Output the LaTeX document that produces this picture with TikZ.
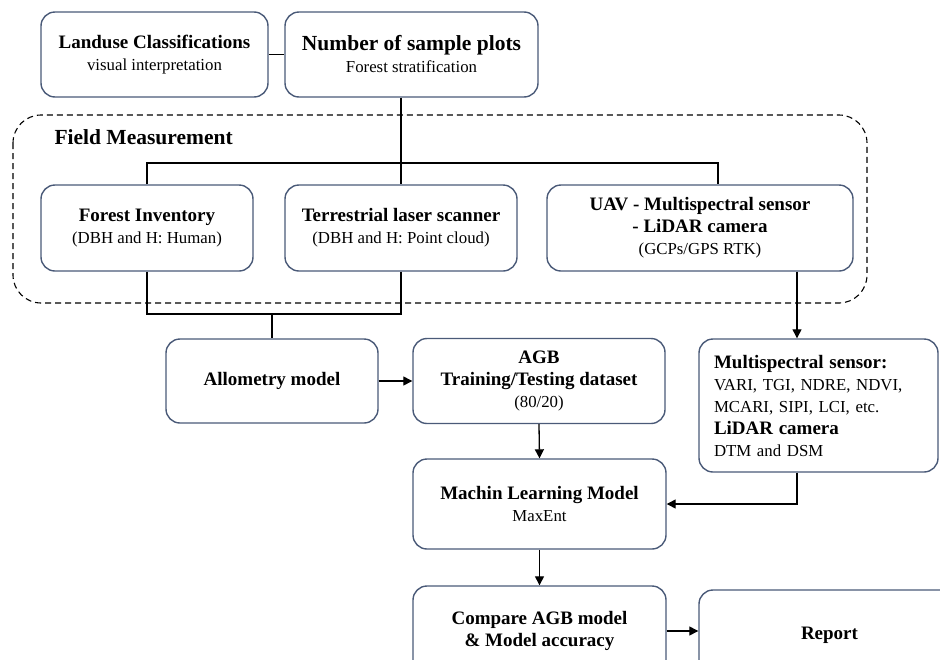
\documentclass[tikz,border=0pt]{standalone}
\usepackage{fontspec}
\setmainfont{Liberation Serif}
\usetikzlibrary{arrows.meta}
\definecolor{boxc}{HTML}{4A5A78}
\newcommand\tfnt{\fontsize{19}{22}\selectfont\bfseries}
\newcommand\bigtfnt{\fontsize{21.5}{22}\selectfont\bfseries}
\newcommand\subfnt{\fontsize{16.8}{22}\selectfont}
\begin{document}
\begin{tikzpicture}[x=1pt,y=-1pt,
  box/.style={draw=boxc, line width=1.4pt, rounded corners=14pt, align=center,
    inner sep=0pt, fill=white, font=\fontsize{17}{22}\selectfont},
  conn/.style={draw=black, line width=1.3pt},
  arr/.style={conn, -{Triangle[length=9pt,width=9pt]}}]
\useasboundingbox (0,0) rectangle (940,659);
\clip (0,0) rectangle (940,659);
% dashed region
\draw[dash pattern=on 6pt off 4pt, line width=1.1pt, rounded corners=28pt] (13,115) rectangle (867,303);
\node[anchor=west, font=\bigtfnt] (fm) at (51,137) {Field Measurement};
% nodes
\node[box, minimum width=227pt, minimum height=85pt] (land) at (154.5,54.5)
  {{\tfnt Landuse Classifications}\\{\subfnt visual interpretation}};
\node[box, minimum width=253pt, minimum height=85pt] (num) at (411.5,54.5)
  {{\bigtfnt Number of sample plots}\\{\subfnt Forest stratification}};
\node[box, minimum width=212pt, minimum height=86pt] (fi) at (147,228)
  {{\tfnt Forest Inventory}\\{\subfnt (DBH and H: Human)}};
\node[box, minimum width=232pt, minimum height=86pt] (tls) at (401,228)
  {{\tfnt Terrestrial laser scanner}\\{\subfnt (DBH and H: Point cloud)}};
\node[box, minimum width=306pt, minimum height=86pt] (uav) at (700,228)
  {{\tfnt UAV - Multispectral sensor}\\{\tfnt - LiDAR camera}\\{\subfnt (GCPs/GPS RTK)}};
\node[box, minimum width=212pt, minimum height=84pt] (allo) at (272,381)
  {{\tfnt Allometry model}};
\node[box, minimum width=252pt, minimum height=85pt] (agb) at (539,381)
  {{\tfnt AGB}\\{\tfnt Training/Testing dataset}\\{\subfnt (80/20)}};
\node[box, minimum height=133pt, text width=209pt, align=left, inner xsep=15pt] (ms) at (818.5,405.5)
  {{\tfnt Multispectral sensor:}\\{\subfnt VARI, TGI, NDRE, NDVI,}\\{\subfnt MCARI, SIPI, LCI, etc.}\\{\tfnt LiDAR camera}\\{\subfnt DTM and DSM}};
\node[box, minimum width=253pt, minimum height=90pt] (ml) at (539.5,504)
  {{\tfnt Machin Learning Model}\\{\subfnt MaxEnt}};
\node[box, minimum width=253pt, minimum height=90pt] (cmp) at (539.5,631)
  {{\tfnt Compare AGB model}\\{\tfnt \& Model accuracy}};
\node[box, minimum width=261pt, minimum height=90pt] (rep) at (829.5,635)
  {{\tfnt Report}};
% connectors
\coordinate (bar) at (718,163);
\coordinate (merge) at (272,314);
\coordinate (ux) at (797,0);
\draw[conn] (land.east) -- (num.west);
\draw[conn] (num.south -| tls.north) -- (tls.north);
\draw[conn] (fi.north) |- (bar) -- (bar |- uav.north);
\draw[conn] (fi.south) |- (merge);
\draw[conn] (tls.south) |- (merge);
\draw[conn] (merge) -- (allo.north);
\draw[arr] (allo.east) -- (allo.east -| agb.west);
\draw[arr] (agb.south) -- (ml.north);
\draw[arr] (uav.south -| ux) -- (ms.north -| ux);
\draw[arr] (ms.south -| ux) |- (ml.east);
\draw[arr] (ml.south) -- (cmp.north);
\draw[arr] (cmp.east) -- (cmp.east -| rep.west);
\end{tikzpicture}
\end{document}
